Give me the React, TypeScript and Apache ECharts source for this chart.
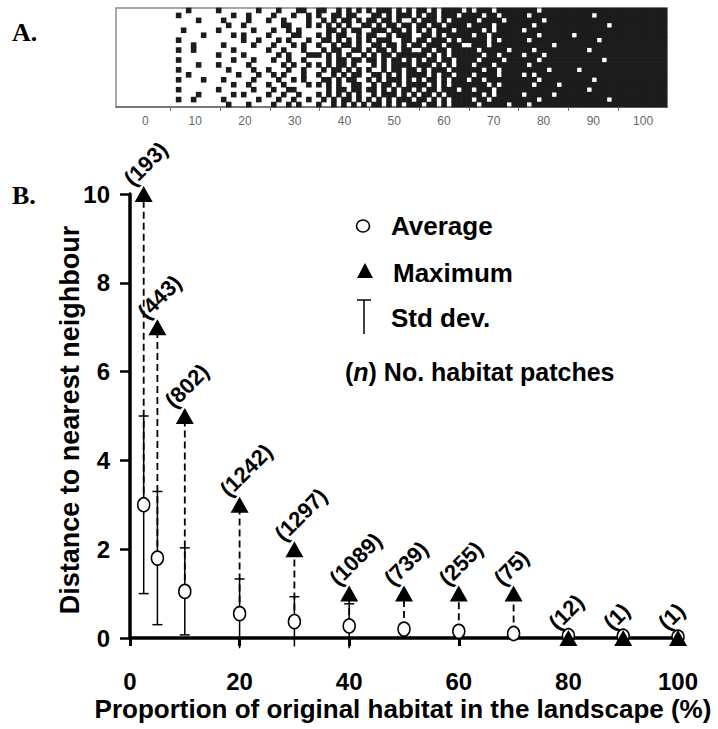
import React, { useEffect, useRef } from 'react';
import * as echarts from 'echarts';

// ---------- Panel B data ----------
const habitatPct = [2.5, 5, 10, 20, 30, 40, 50, 60, 70, 80, 90, 100];
const averageDist = [3.0, 1.8, 1.05, 0.55, 0.37, 0.27, 0.2, 0.15, 0.1, 0.05, 0.04, 0.02];
const maximumDist = [10, 7, 5, 3, 2, 1, 1, 1, 1, 0, 0, 0];
const stdDev = [2.0, 1.5, 0.98, 0.78, 0.56, 0.5, null, null, null, null, null, null];
const patchCounts = [193, 443, 802, 1242, 1297, 1089, 739, 255, 75, 12, 1, 1];
const yTicks = [0, 2, 4, 6, 8, 10];

// ---------- Panel A data (landscape map, '#' = habitat cell) ----------
const landscapeRows = [
  '..........|....#.....|#.......#.|..#...##..|##..#.#.#.|#.###.#.#.|##.#.####.|#.###.####|####.#####|##########|##########',
  '..........|..#.......|...#..#...|.#...#..#.|#..##.##..|.##.#.###.|#.##.###.#|###.##.###|##.#######|#####.####|##########',
  '..........|......#...|.#....#...|#..#....#.|.#.#.##.#.|##.##.#..#|.###.#.###|##.####.##|#####.####|##########|##########',
  '..........|..........|..#..#....|...##...#.|#.#.#.#..#|#.#.##.##.|##.##.####|.####.####|###.######|########.#|##########',
  '..........|...#......|#......#..|.#..#.#...|..##.#.##.|.###.##.#.|#.#.###.##|###.#.####|#.########|##########|##########',
  '..........|.......#..|...#.#....|#....##...|#.#.##..#.|##..#.###.|.##.#.####|#.##.#####|####.#####|#.########|##########',
  '..........|..#.......|.....#..#.|..#.#...#.|.##.#.#.#.|#.###..##.|##.###.#.#|####.#.###|##.#######|######.###|##########',
  '..........|.....#....|.#.....#..|.#...#.#..|#..#.##.#.|.##.##.#.#|#.###.###.|.###.#####|#######.##|##########|##########',
  '..........|..#..#....|...#......|#..#...#..|.#.##..##.|#.##.#.##.|.##.##.###|##.#####.#|###.######|####.#####|##########',
  '..........|..........|#....#....|..#.#...##|#.#.#.#..#|.#.##.####|##.#.#.###|###.##.###|#.###.####|##########|##########',
  '..........|..#.......|...#...#..|.#..#..#..|..#.##.##.|##.#.##.#.|#.##.##.##|##.####.##|####.#####|#######.##|##########',
  '..........|......#...|#.....#...|...#.#..#.|#.#.##.#..|.#.#.####.|###.#.#.##|#.###.####|##.#######|##########|##########',
  '..........|..#.......|..#....#..|#...#..#..|.#.##.#.#.|#..#.##.##|.#.###.###|###.##.###|######.###|##.#######|##########',
  '..........|....#.....|....#...#.|.#.#...#..|#..#.#.##.|.##.#.#.##|##.#.##.##|#.####.###|#.#.######|##########|##########',
  '..........|..#....#..|.#.....#..|..#..#.#..|.##.#.##..|#.#.###.#.|#.##.#.###|.##.######|####.#####|#####.####|##########',
  '..........|..........|...#..#...|#..#....#.|#.#.#..##.|.#.##.#.##|##.#.#.###|####.#.###|###.####.#|##########|##########',
  '..........|..#.......|#......#..|.#..##....|..#.##.##.|##.#.#.##.|#.##.###.#|#.###.####|##########|####.#####|##########',
  '..........|......#...|...#.#....|#..#..#...|#.#.#.#.#.|.#.###.#.#|.##.#.####|###.#.####|#.#####.##|##########|##########',
  '..........|..#..#....|.#......#.|..#..#..#.|.#.#.##.#.|#.#.#.###.|##.#.#.###|#.##.#####|####.#####|########.#|##########',
  '..........|..........|..#...#...|.#..#.#...|#..#.#.#.#|.##.#.#.##|#.##.#.###|##.#####.#|##.#######|##########|##########',
];
const mapLabels = [0, 10, 20, 30, 40, 50, 60, 70, 80, 90, 100];
const mapMinorTicks = [5, 15, 25, 35, 45, 55, 65, 75, 85, 95];

const SANS = '"Liberation Sans", Arial, Helvetica, sans-serif';
const SERIF = '"Liberation Serif", "Times New Roman", serif';

function buildOption() {
  const nRows = landscapeRows.length;
  const cells: number[][] = [];
  landscapeRows.forEach((row, r) => {
    row.split('|').forEach((block, b) => {
      for (let j = 0; j < block.length; j++) {
        if (block[j] === '#') cells.push([b * 10 + j + 0.5, nRows - r - 0.5]);
      }
    });
  });

  const points = habitatPct.map((x, i) => [x, averageDist[i], maximumDist[i], stdDev[i] == null ? NaN : (stdDev[i] as number)]);

  return {
    animation: false,
    backgroundColor: '#fff',
    grid: [
      { left: 130, top: 194, width: 548, height: 444, containLabel: false },
      { left: 116, top: 8, width: 551, height: 99, show: true, borderColor: '#8a8a8a', borderWidth: 1.5, backgroundColor: '#fff' },
    ],
    xAxis: [
      {
        type: 'value', gridIndex: 0, min: 0, max: 100, interval: 20,
        axisLine: { show: true, lineStyle: { color: '#000', width: 3.5 } },
        axisTick: { show: true, length: 8, lineStyle: { color: '#000', width: 3 } },
        axisLabel: { color: '#000', fontSize: 24, fontWeight: 'bold', fontFamily: SANS, margin: 31 },
        splitLine: { show: false },
      },
      { type: 'value', gridIndex: 1, min: 0, max: 110, show: false },
      {
        type: 'value', gridIndex: 1, min: -5.9, max: 104.8, position: 'bottom',
        axisLine: { show: true, lineStyle: { color: '#6a6a6a', width: 1.5 } },
        axisTick: { show: true, length: 4, customValues: mapMinorTicks, lineStyle: { color: '#777', width: 1 } },
        axisLabel: { customValues: mapLabels, color: '#666', fontSize: 12, fontFamily: SANS, margin: 8 },
        splitLine: { show: false },
      },
    ],
    yAxis: [
      {
        type: 'value', gridIndex: 0, min: 0, max: 10, interval: 2,
        axisLine: { show: true, lineStyle: { color: '#000', width: 3.5 } },
        axisTick: { show: true, length: 10, lineStyle: { color: '#000', width: 2.5 } },
        axisLabel: { color: '#000', fontSize: 24, fontWeight: 'bold', fontFamily: SANS, margin: 20, customValues: yTicks },
        splitLine: { show: false },
      },
      { type: 'value', gridIndex: 1, min: 0, max: nRows, show: false },
    ],
    series: [
      {
        type: 'scatter', xAxisIndex: 1, yAxisIndex: 1, data: cells, symbol: 'rect',
        symbolSize: [5.6, 5.6], itemStyle: { color: '#1c1c1c', borderWidth: 0, opacity: 1 }, silent: true, z: 1,
      },
      {
        type: 'custom', xAxisIndex: 0, yAxisIndex: 0, data: points, z: 2, silent: true,
        renderItem: (params: any, api: any) => {
          const x = api.value(0), avg = api.value(1), mx = api.value(2);
          if (mx - avg < 0.05) return null;
          const a = api.coord([x, avg]);
          const b = api.coord([x, mx]);
          return {
            type: 'line', shape: { x1: a[0], y1: a[1], x2: b[0], y2: b[1] },
            style: { stroke: '#000', lineWidth: 1.8, lineDash: [7, 4] },
          };
        },
      },
      {
        type: 'custom', xAxisIndex: 0, yAxisIndex: 0, data: points, z: 3, silent: true, clip: false,
        renderItem: (params: any, api: any) => {
          const x = api.value(0), avg = api.value(1), sd = api.value(3);
          if (sd == null || isNaN(sd)) return null;
          const hi = api.coord([x, avg + sd]);
          const lo = api.coord([x, avg - sd]);
          const children: any[] = [
            { type: 'line', shape: { x1: hi[0], y1: hi[1], x2: lo[0], y2: lo[1] }, style: { stroke: '#000', lineWidth: 1.5 } },
            { type: 'line', shape: { x1: hi[0] - 5, y1: hi[1], x2: hi[0] + 5, y2: hi[1] }, style: { stroke: '#000', lineWidth: 1.5 } },
          ];
          if (avg - sd >= 0) {
            children.push({ type: 'line', shape: { x1: lo[0] - 5, y1: lo[1], x2: lo[0] + 5, y2: lo[1] }, style: { stroke: '#000', lineWidth: 1.5 } });
          }
          return { type: 'group', children };
        },
      },
      {
        type: 'scatter', xAxisIndex: 0, yAxisIndex: 0, name: 'Average', z: 4, silent: true,
        data: habitatPct.map((x, i) => [x, averageDist[i]]),
        symbol: 'circle', symbolSize: [12, 14],
        itemStyle: { color: '#fff', borderColor: '#000', borderWidth: 1.6, opacity: 1 },
      },
      {
        type: 'scatter', xAxisIndex: 0, yAxisIndex: 0, name: 'Maximum', z: 5, silent: true,
        data: habitatPct.map((x, i) => [x, maximumDist[i]]),
        symbol: 'triangle', symbolSize: [18, 16],
        itemStyle: { color: '#000', opacity: 1 },
      },
      {
        type: 'custom', xAxisIndex: 0, yAxisIndex: 0, data: points, z: 6, silent: true, clip: false,
        renderItem: (params: any, api: any) => {
          const p = api.coord([api.value(0), api.value(2)]);
          return {
            type: 'text', x: p[0] - 16, y: p[1] - 12, rotation: Math.PI / 4,
            style: {
              text: '(' + patchCounts[params.dataIndex] + ')', fill: '#000',
              font: 'bold 22px ' + SANS, align: 'left', verticalAlign: 'middle',
            },
          };
        },
      },
    ],
    graphic: [
      { type: 'text', x: 12, y: 32, style: { text: 'A.', font: 'bold 26px ' + SERIF, fill: '#000', verticalAlign: 'middle' } },
      { type: 'text', x: 12, y: 195, style: { text: 'B.', font: 'bold 26px ' + SERIF, fill: '#000', verticalAlign: 'middle' } },
      {
        type: 'text', x: 70, y: 420, rotation: Math.PI / 2,
        style: { text: 'Distance to nearest neighbour', font: 'bold 27px ' + SANS, fill: '#000', align: 'center', verticalAlign: 'middle' },
      },
      {
        type: 'text', x: 403, y: 709,
        style: { text: 'Proportion of original habitat in the landscape (%)', font: 'bold 26px ' + SANS, fill: '#000', align: 'center', verticalAlign: 'middle' },
      },
      { type: 'ellipse', shape: { cx: 363, cy: 226, rx: 6.5, ry: 6 }, style: { fill: '#fff', stroke: '#000', lineWidth: 1.6 } },
      { type: 'polygon', shape: { points: [[365, 263], [357, 278], [373, 278]] }, style: { fill: '#000' } },
      { type: 'line', shape: { x1: 357, y1: 300, x2: 371, y2: 300 }, style: { stroke: '#000', lineWidth: 1.5 } },
      { type: 'line', shape: { x1: 364, y1: 300, x2: 364, y2: 334 }, style: { stroke: '#000', lineWidth: 1.5 } },
      { type: 'text', x: 391, y: 226, style: { text: 'Average', font: 'bold 26px ' + SANS, fill: '#000', verticalAlign: 'middle' } },
      { type: 'text', x: 393, y: 273, style: { text: 'Maximum', font: 'bold 26px ' + SANS, fill: '#000', verticalAlign: 'middle' } },
      { type: 'text', x: 391, y: 318, style: { text: 'Std dev.', font: 'bold 26px ' + SANS, fill: '#000', verticalAlign: 'middle' } },
      {
        type: 'text', x: 345, y: 372,
        style: {
          text: '{b|(}{i|n}{b|) No. habitat patches}', verticalAlign: 'middle',
          rich: {
            b: { font: 'bold 25px ' + SANS, fill: '#000' },
            i: { font: 'italic bold 25px ' + SANS, fill: '#000' },
          },
        },
      },
    ],
  };
}

export default function App() {
  const ref = useRef<HTMLDivElement>(null);
  useEffect(() => {
    if (!ref.current) return;
    const chart = echarts.init(ref.current, null, { renderer: 'svg' });
    chart.setOption(buildOption() as any);
    return () => chart.dispose();
  }, []);
  return (
    <div
      ref={ref}
      style={{ position: 'absolute', left: 0, top: 0, width: 718, height: 729, background: '#fff' }}
    />
  );
}
